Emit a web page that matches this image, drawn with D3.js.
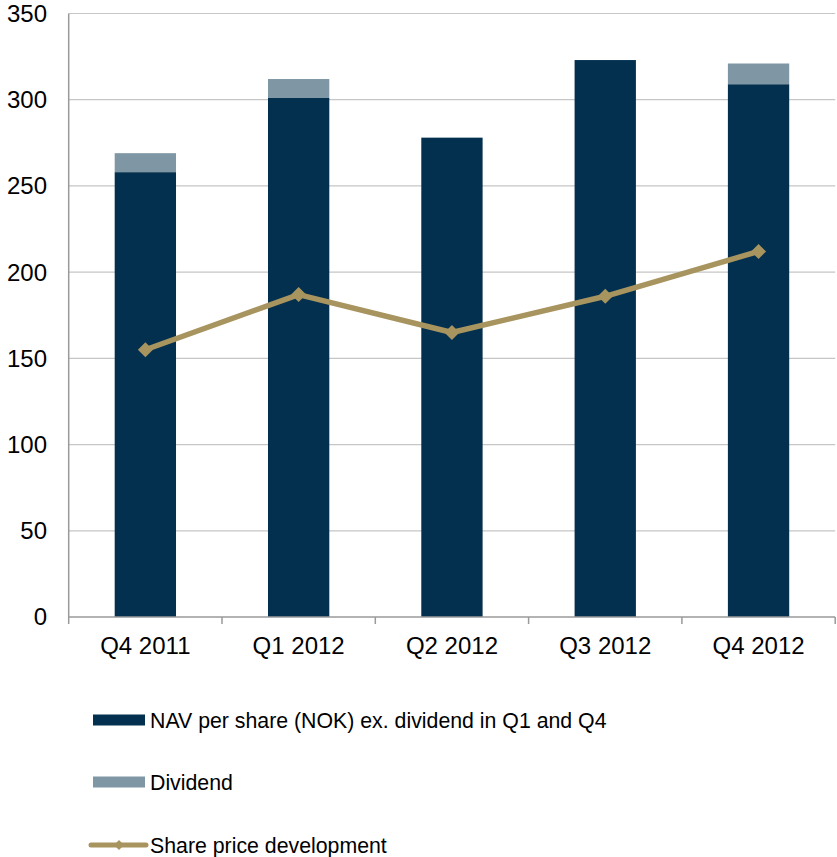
<!DOCTYPE html>
<html><head><meta charset="utf-8">
<script src="https://cdn.jsdelivr.net/npm/d3@7"></script>
<style>body{margin:0;background:#fff;}svg{display:block;font-family:"Liberation Sans",Arial,sans-serif;}</style>
</head><body>
<svg id="c" width="837" height="857"></svg>
<script>
const categories = ["Q4 2011","Q1 2012","Q2 2012","Q3 2012","Q4 2012"];
const navValues = [258, 301, 278, 323, 309];
const dividendValues = [11, 11, 0, 0, 12];
const sharePrice = [155, 187, 165, 186, 212];
const yTicks = [0,50,100,150,200,250,300,350];
const legendLabels = ["NAV per share (NOK) ex. dividend in Q1 and Q4","Dividend","Share price development"];

(function(){
const colNav = "#03304e", colDiv = "#7f97a5", colLine = "#a8945f";
const svg = d3.select("#c");
const pLeft = 68.7, pRight = 835.2, pTop = 13.5, pBottom = 617;

const x = d3.scaleBand().domain(categories).range([pLeft, pRight]).paddingInner(0.6).paddingOuter(0.3);
const xb = d3.scaleBand().domain(categories).range([pLeft, pRight]);
const y = d3.scaleLinear().domain([0, 350]).range([pBottom, pTop]);

svg.append("g").selectAll("line").data(yTicks.filter(d=>d>0)).join("line")
  .attr("x1", pLeft).attr("x2", pRight).attr("y1", d=>y(d)).attr("y2", d=>y(d))
  .attr("stroke", "#c6c6c6").attr("stroke-width", 1.2);

svg.append("g").selectAll("text").data(yTicks).join("text")
  .attr("x", 47).attr("y", d=>y(d)).attr("dy", "0.35em").attr("text-anchor", "end")
  .attr("font-size", 24).attr("fill", "#000").text(d=>d);

const data = categories.map((c,i)=>({c, nav:navValues[i], div:dividendValues[i], sp:sharePrice[i]}));
svg.append("g").selectAll("rect").data(data).join("rect")
  .attr("x", d=>x(d.c)).attr("width", x.bandwidth())
  .attr("y", d=>y(d.nav)).attr("height", d=>y(0)-y(d.nav)).attr("fill", colNav);
svg.append("g").selectAll("rect").data(data.filter(d=>d.div>0)).join("rect")
  .attr("x", d=>x(d.c)).attr("width", x.bandwidth())
  .attr("y", d=>y(d.nav+d.div)).attr("height", d=>y(d.nav)-y(d.nav+d.div)).attr("fill", colDiv);

svg.append("line").attr("x1", pLeft).attr("x2", pLeft).attr("y1", pTop).attr("y2", pBottom)
  .attr("stroke", "#9a9a9a").attr("stroke-width", 1.5);
svg.append("line").attr("x1", pLeft).attr("x2", pRight).attr("y1", pBottom).attr("y2", pBottom)
  .attr("stroke", "#9a9a9a").attr("stroke-width", 1.5);
const bounds = categories.map(c=>xb(c)).concat([pRight]);
svg.append("g").selectAll("line").data(bounds).join("line")
  .attr("x1", d=>d).attr("x2", d=>d).attr("y1", pBottom).attr("y2", pBottom+7)
  .attr("stroke", "#9a9a9a").attr("stroke-width", 1.5);
svg.append("g").selectAll("text").data(categories).join("text")
  .attr("x", d=>xb(d)+xb.bandwidth()/2).attr("y", 654).attr("text-anchor", "middle")
  .attr("font-size", 24).attr("fill", "#000").text(d=>d);

const cx = d=>xb(d.c)+xb.bandwidth()/2;
svg.append("path").datum(data)
  .attr("d", d3.line().x(cx).y(d=>y(d.sp)))
  .attr("fill", "none").attr("stroke", colLine).attr("stroke-width", 5.5).attr("stroke-linejoin","round");
const diamond = s => `M0,${-s}L${s},0L0,${s}L${-s},0Z`;
svg.append("g").selectAll("path").data(data).join("path")
  .attr("transform", d=>`translate(${cx(d)},${y(d.sp)})`).attr("d", diamond(7.5)).attr("fill", colLine);

const lg = svg.append("g");
const ly = [720, 782, 845];
lg.append("rect").attr("x", 93).attr("y", ly[0]-5.5).attr("width", 52).attr("height", 11).attr("fill", colNav);
lg.append("rect").attr("x", 93).attr("y", ly[1]-5.5).attr("width", 52).attr("height", 11).attr("fill", colDiv);
lg.append("line").attr("x1", 91).attr("x2", 146).attr("y1", ly[2]).attr("y2", ly[2])
  .attr("stroke", colLine).attr("stroke-width", 5).attr("stroke-linecap","round");
lg.append("path").attr("transform", `translate(119,${ly[2]})`).attr("d", diamond(5)).attr("fill", colLine);
lg.selectAll("text").data(legendLabels).join("text")
  .attr("x", 150).attr("y", (d,i)=>ly[i]).attr("dy", "0.36em")
  .attr("font-size", 21.3).attr("fill", "#000").text(d=>d);
})();
</script>
</body></html>
